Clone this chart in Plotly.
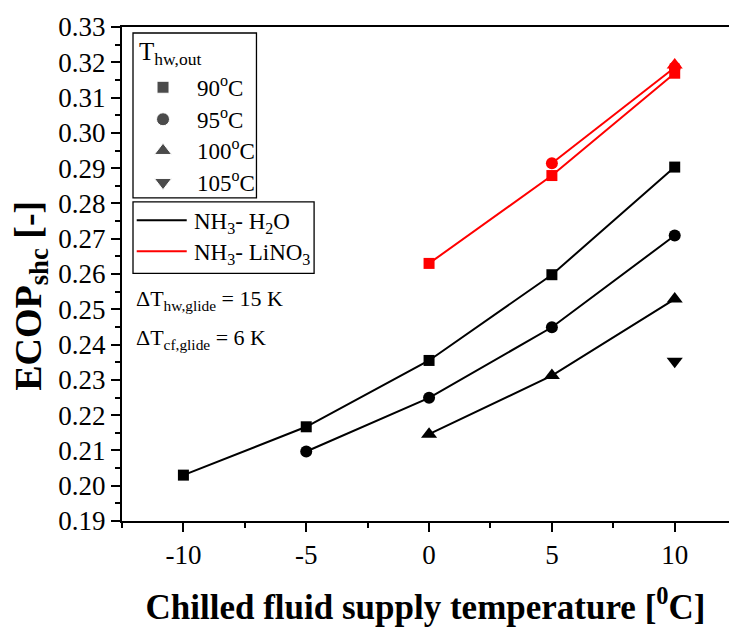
import plotly.graph_objects as go

# ---- data ----
cf_temp = [-10, -5, 0, 5, 10]
x_tick_text = ["-10", "-5", "0", "5", "10"]

h2o_90 = [0.2030, 0.2167, 0.2355, 0.2598, 0.2903]
h2o_95 = [None, 0.2097, 0.2249, 0.2449, 0.2709]
h2o_100 = [None, None, 0.2146, 0.2312, 0.2529]
h2o_105 = [None, None, None, None, 0.2353]

lino3_90 = [None, None, 0.2630, 0.2879, 0.3169]
lino3_95 = [None, None, None, 0.2914, 0.3185]
lino3_100 = [None, None, None, None, 0.3192]

hw_labels = ["90<sup>o</sup>C", "95<sup>o</sup>C", "100<sup>o</sup>C", "105<sup>o</sup>C"]
symbols = ["square", "circle", "triangle-up", "triangle-down"]
fluid_labels = ["NH<sub>3</sub>- H<sub>2</sub>O", "NH<sub>3</sub>- LiNO<sub>3</sub>"]

FONT = "Times New Roman, Liberation Serif, serif"
BLACK = "#000000"
RED = "#ff0000"

W, H = 729, 628
# plot area in page pixels
PL, PR, PT, PB = 122.3, 729.0, 26.7, 521.0


def px(sx):
    return (sx - PL) / (PR - PL)


def py(sy):
    return (PB - sy) / (PB - PT)


fig = go.Figure()

sizes = {"square": 11, "circle": 12, "triangle-up": 14, "triangle-down": 14}

black_series = [h2o_90, h2o_95, h2o_100, h2o_105]
for ys, sym in zip(black_series, symbols):
    fig.add_trace(go.Scatter(
        x=cf_temp, y=ys, mode="lines+markers",
        line=dict(color=BLACK, width=2),
        marker=dict(symbol=sym, size=sizes[sym], color=BLACK),
        showlegend=False))

red_series = [lino3_90, lino3_95, lino3_100]
for ys, sym in zip(red_series, symbols[:3]):
    fig.add_trace(go.Scatter(
        x=cf_temp, y=ys, mode="lines+markers",
        line=dict(color=RED, width=2),
        marker=dict(symbol=sym, size=sizes[sym], color=RED),
        showlegend=False))

# ---- hand-made legends ----
LEG_FS = 23
row_y = [87, 119, 150.5, 182]
marker_x = 163.3
text_x = 195

# legend markers on a hidden overlay axis spanning the plot area
fig.add_trace(go.Scatter(
    x=[px(marker_x)] * len(symbols), y=[py(v) for v in row_y],
    xaxis="x2", yaxis="y2", mode="markers",
    marker=dict(symbol=symbols, size=[sizes[s] + 1 for s in symbols], color=BLACK),
    showlegend=False, hoverinfo="skip", cliponaxis=False))

shapes = [
    dict(type="rect", xref="paper", yref="paper",
         x0=px(133.3), x1=px(256.7), y0=py(197.7), y1=py(32.7),
         line=dict(color=BLACK, width=1.3)),
    dict(type="rect", xref="paper", yref="paper",
         x0=px(133.3), x1=px(314.3), y0=py(273.3), y1=py(201.7),
         line=dict(color=BLACK, width=1.3)),
]
line_y = [220, 251]
for ly, col in zip(line_y, [BLACK, RED]):
    shapes.append(dict(type="line", xref="paper", yref="paper",
                       x0=px(137), x1=px(187), y0=py(ly), y1=py(ly),
                       line=dict(color=col, width=2)))

annotations = [
    dict(text="T<sub>hw,out</sub>", x=px(137), y=py(53),
         font=dict(family=FONT, size=25, color=BLACK)),
]
for lab, ry in zip(hw_labels, row_y):
    annotations.append(dict(text=lab, x=px(text_x), y=py(ry - 1),
                            font=dict(family=FONT, size=LEG_FS, color=BLACK)))
for lab, ly in zip(fluid_labels, line_y):
    annotations.append(dict(text=lab, x=px(192), y=py(ly + 3),
                            font=dict(family=FONT, size=LEG_FS, color=BLACK)))
annotations += [
    dict(text="\u0394T<sub>hw,glide</sub> = 15 K", x=px(134), y=py(300),
         font=dict(family=FONT, size=22, color=BLACK)),
    dict(text="\u0394T<sub>cf,glide</sub> = 6 K", x=px(134), y=py(339),
         font=dict(family=FONT, size=22, color=BLACK)),
]
for a in annotations:
    a.update(xref="paper", yref="paper", xanchor="left", yanchor="middle", showarrow=False)

# y-axis title as rotated annotation (centred a little below the plot middle)
annotations.append(dict(
    text="<b>ECOP<sub>shc</sub> [-]</b>", textangle=-90,
    xref="paper", yref="paper", x=px(31), y=py(296),
    xanchor="center", yanchor="middle", showarrow=False,
    font=dict(family=FONT, size=38, color=BLACK)))

fig.update_layout(
    width=W, height=H,
    margin=dict(l=PL, r=W - PR, t=PT, b=H - PB),
    paper_bgcolor="white", plot_bgcolor="white",
    font=dict(family=FONT, color=BLACK),
    showlegend=False,
    shapes=shapes,
    annotations=annotations,
    xaxis=dict(
        range=[-12.5, 12.21],
        tickmode="array", tickvals=cf_temp, ticktext=x_tick_text,
        showgrid=False, zeroline=False,
        showline=True, linecolor=BLACK, linewidth=2, mirror=True,
        ticks="outside", ticklen=9, tickwidth=2, tickcolor=BLACK,
        minor=dict(tickmode="linear", tick0=0, dtick=2.5, ticks="outside",
                   ticklen=5, tickwidth=2, tickcolor=BLACK),
        tickfont=dict(family=FONT, size=27, color=BLACK),
        title=dict(text="<b>Chilled fluid supply temperature [<sup>0</sup>C]</b>",
                   font=dict(family=FONT, size=35, color=BLACK), standoff=25),
    ),
    yaxis=dict(
        range=[0.19, 0.33], tick0=0.19, dtick=0.01, tickformat=".2f",
        showgrid=False, zeroline=False,
        showline=True, linecolor=BLACK, linewidth=2, mirror=False,
        ticks="outside", ticklen=9, tickwidth=2, tickcolor=BLACK,
        minor=dict(tick0=0.19, dtick=0.005, ticks="outside", ticklen=5,
                   tickwidth=2, tickcolor=BLACK),
        tickfont=dict(family=FONT, size=27, color=BLACK),
    ),
    xaxis2=dict(overlaying="x", range=[0, 1], visible=False),
    yaxis2=dict(overlaying="y", range=[0, 1], visible=False),
)

fig.write_html(
    "out.html",
    config={"displayModeBar": False},
    post_script="document.body.style.margin='0';document.body.style.overflow='hidden';",
)
